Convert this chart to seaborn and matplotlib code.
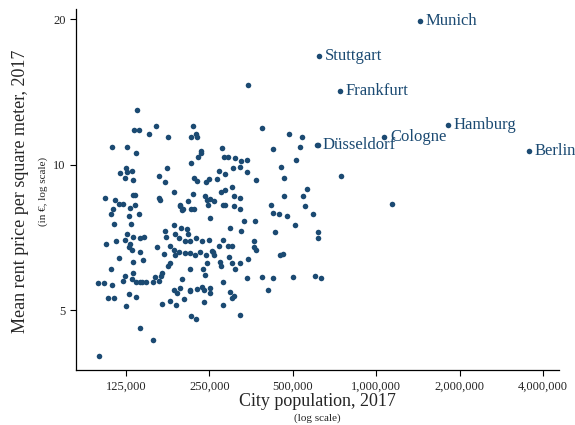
import numpy as np
import pandas as pd
import matplotlib
matplotlib.use('Agg')
import matplotlib.pyplot as plt
import seaborn as sns

# population in thousands, mean rent in EUR per m2
pop_k = [137, 134, 139, 152, 160, 178, 218, 215, 224, 226, 386, 485, 538,
         111, 126, 136, 278, 233, 234, 423, 531, 618,
         282, 291, 310, 326, 342, 304, 322, 227, 215, 176, 512,
         125, 119, 126, 124, 131, 133, 164, 173, 220, 225, 243, 250, 266, 270, 284, 343, 368, 452, 466,
         105, 114, 118, 122, 112, 110, 133, 135, 129, 135, 128, 139, 113,
         164, 166, 186, 196, 201, 210, 219, 215, 242, 245, 251, 248, 259, 275, 284, 302, 280, 284, 307, 323, 306, 322,
         196, 199, 220, 251, 333, 364, 418, 424, 447, 478, 511, 464, 546, 564, 553, 591,
         130, 126, 133, 115, 106, 124, 141, 145, 129, 128, 131, 140, 162, 173, 175, 181, 186, 187, 188, 197,
         208, 210, 212, 195, 204, 224, 236, 250, 258, 271, 279, 292, 302, 325, 297, 362, 362, 367, 432, 614, 616,
         110, 118, 124, 122, 133, 144, 133, 132, 136, 141, 148, 159, 157, 164, 168, 167, 177, 180, 171, 188,
         195, 205, 213, 222, 232, 243, 255, 259, 246, 238, 242, 275, 274, 294, 302, 309, 323, 345, 199, 213,
         343, 387, 423, 501, 632, 448, 460, 407,
         99, 104, 111, 108, 113, 128, 136, 125, 143, 186, 191, 196, 202, 180, 169, 189, 212, 213, 226, 236,
         240, 251, 252, 240, 280, 281, 297, 302, 308, 323, 214, 224, 141, 157, 100,
         745, 1140, 600, 345]
rent = [13.0, 11.8, 11.8, 11.6, 12.0, 11.4, 12.0, 11.4, 11.6, 11.4, 11.9, 11.6, 11.4,
        10.9, 10.9, 10.6, 10.85, 10.7, 10.6, 10.8, 10.9, 11.0,
        10.4, 10.4, 10.35, 10.2, 10.25, 9.85, 9.9, 10.4, 10.1, 9.85, 10.25,
        9.85, 9.6, 9.65, 9.4, 9.7, 9.3, 9.5, 9.2, 9.4, 9.25, 9.2, 9.35, 9.35, 9.7, 9.55, 9.65, 9.3, 9.9, 9.4,
        8.55, 8.45, 8.3, 8.3, 8.1, 7.9, 8.65, 8.65, 8.15, 8.25, 7.85, 7.9, 7.55,
        8.55, 8.45, 8.8, 8.2, 8.1, 8.4, 8.7, 8.1, 8.6, 8.45, 8.5, 8.25, 8.4, 8.8, 8.85, 9.0, 8.25, 8.25, 8.6, 8.55, 8.2, 8.1,
        8.25, 8.05, 8.1, 7.75, 7.65, 7.65, 8.25, 7.95, 7.9, 7.85, 7.5, 8.6, 8.6, 8.9, 8.2, 7.9,
        7.55, 7.2, 7.1, 6.95, 6.85, 7.0, 7.05, 7.1, 6.85, 6.75, 6.65, 6.6, 6.75, 7.3, 7.1, 6.8, 6.65, 7.5, 7.2, 7.4,
        7.35, 7.2, 6.95, 7.05, 6.95, 7.05, 6.95, 7.0, 6.6, 6.8, 7.0, 6.8, 6.8, 7.3, 7.4, 6.95, 6.75, 6.65, 7.25, 7.25, 7.05,
        6.1, 6.4, 5.9, 5.75, 6.3, 6.35, 5.98, 5.8, 5.72, 5.73, 5.72, 5.86, 5.72, 5.75, 5.97, 5.9, 6.18, 6.25, 6.55, 6.52,
        6.6, 6.58, 6.58, 6.5, 6.6, 6.5, 6.62, 6.5, 6.25, 6.1, 5.92, 6.18, 6.28, 6.46, 6.25, 6.1, 6.25, 6.38, 5.8, 6.1,
        5.82, 5.87, 5.84, 5.85, 5.82, 6.5, 6.55, 5.52,
        5.7, 5.7, 5.65, 5.3, 5.3, 5.4, 5.33, 5.1, 5.72, 5.52, 5.43, 5.55, 5.28, 5.22, 5.16, 5.14, 5.48, 5.52, 5.54, 5.58,
        5.51, 5.55, 5.43, 5.2, 5.14, 5.72, 5.46, 5.3, 5.34, 4.88, 4.86, 4.8, 4.6, 4.35, 4.03,
        9.5, 8.3, 5.9, 14.6]

cities = ['Munich', 'Stuttgart', 'Frankfurt', 'Hamburg', 'Cologne', 'Düsseldorf', 'Berlin']
city_pop_k = [1440, 621, 740, 1820, 1070, 612, 3560]
city_rent = [19.8, 16.8, 14.2, 12.1, 11.4, 11.0, 10.7]

df = pd.DataFrame({'pop': np.array(pop_k + city_pop_k) * 1000, 'rent': rent + city_rent})

sns.set_style('white')
plt.rcParams['font.family'] = ['Liberation Serif', 'DejaVu Serif']
navy = '#1b4a72'

fig = plt.figure(figsize=(5.75, 4.25), dpi=100)
ax = fig.add_axes([0.132, 0.129, 0.84, 0.85])
sns.scatterplot(data=df, x='pop', y='rent', color=navy, s=16, linewidth=0, ax=ax)
ax.set_xscale('log')
ax.set_yscale('log')
ax.set_xlim(82500, 4560000)
ax.set_ylim(3.76, 21)

xt = [125000, 250000, 500000, 1000000, 2000000, 4000000]
ax.set_xticks(xt)
ax.set_xticklabels([f'{v:,}' for v in xt], fontsize=9)
ax.set_yticks([5, 10, 20])
ax.set_yticklabels(['5', '10', '20'], fontsize=9)
ax.minorticks_off()
ax.tick_params(axis='both', length=4, width=0.8, color='black', direction='out', bottom=True, left=True)
for side in ['top', 'right']:
    ax.spines[side].set_visible(False)
for side in ['left', 'bottom']:
    ax.spines[side].set_color('black')
    ax.spines[side].set_linewidth(0.9)

for name, p, r in zip(cities, city_pop_k, city_rent):
    ax.annotate(name, (p * 1000, r), xytext=(4, 0), textcoords='offset points',
                va='center', ha='left', fontsize=12, color=navy)

ax.set_xlabel('')
ax.set_ylabel('')
fig.text(0.552, 0.055, 'City population, 2017', ha='center', va='center', fontsize=13)
fig.text(0.552, 0.015, '(log scale)', ha='center', va='center', fontsize=8)
fig.text(0.035, 0.55, 'Mean rent price per square meter, 2017', rotation=90, ha='center', va='center', fontsize=13)
fig.text(0.075, 0.55, '(in €, log scale)', rotation=90, ha='center', va='center', fontsize=8)

fig.savefig('out.png', dpi=100)
